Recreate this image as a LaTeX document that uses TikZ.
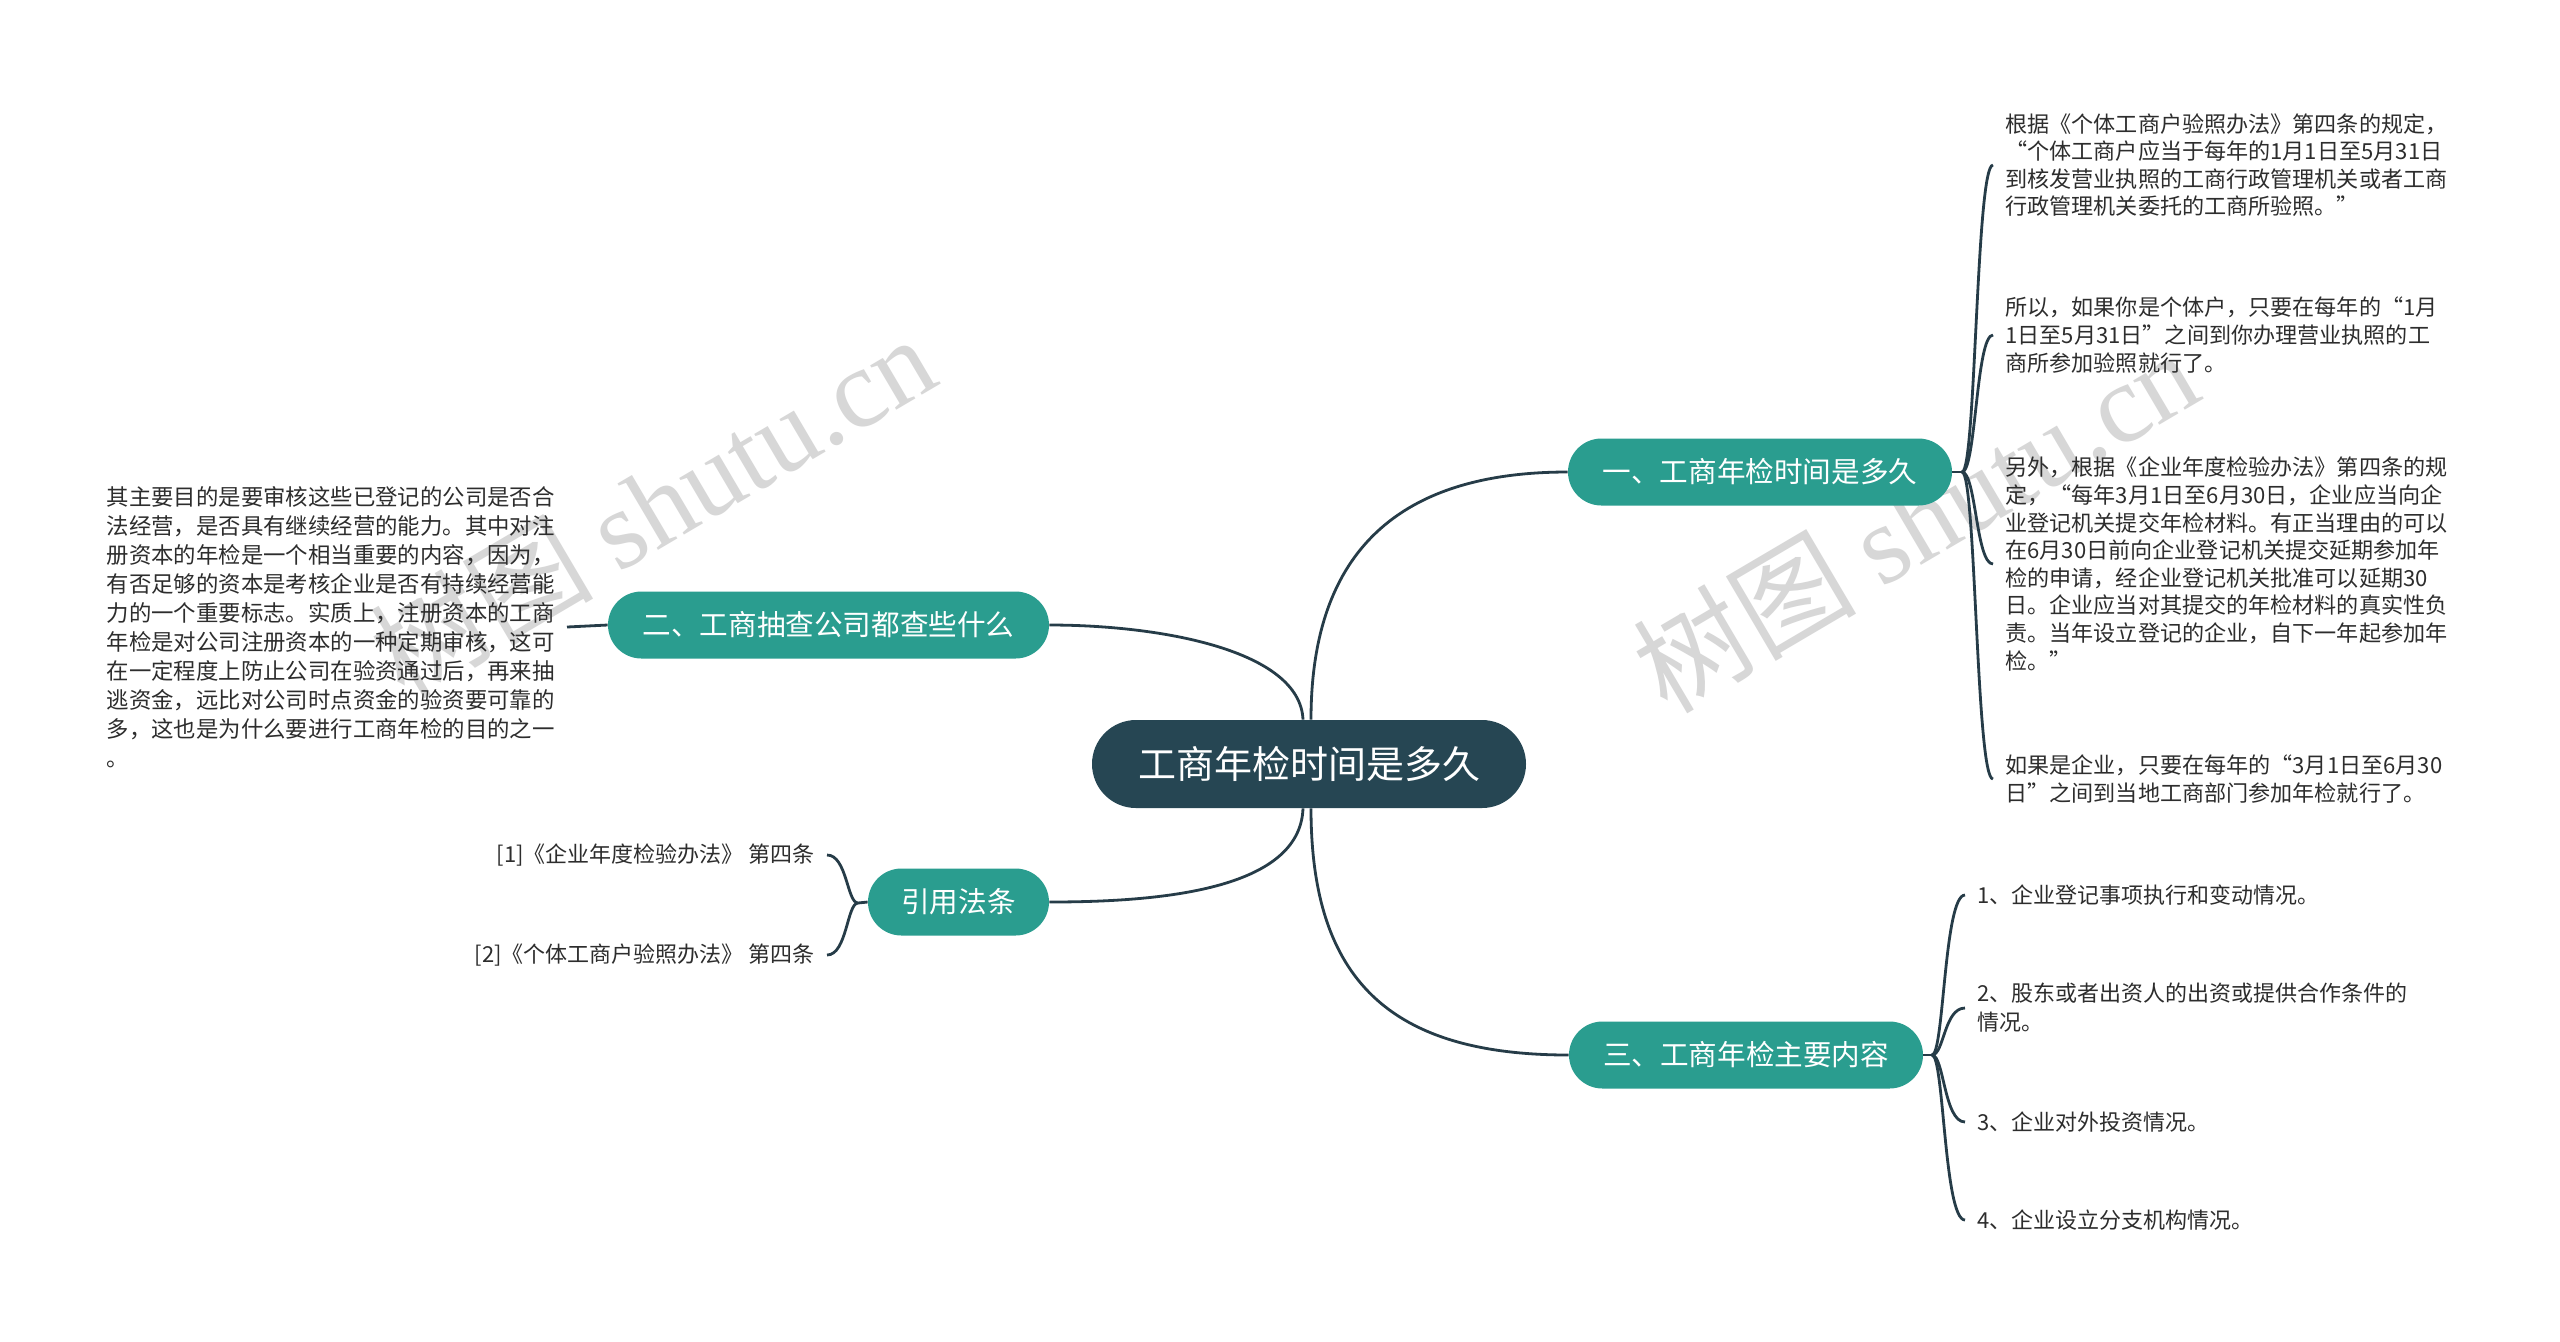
\documentclass[tikz,border=0pt]{standalone}
\usepackage{fontspec}
\setmainfont{Noto Sans CJK SC}
\newfontfamily\wmlatin{Liberation Serif}
\definecolor{tealnode}{RGB}{42,157,143}
\definecolor{rootnode}{RGB}{38,70,83}
\definecolor{linecol}{RGB}{38,60,72}
\definecolor{leaftext}{RGB}{45,45,45}
\definecolor{wmgray}{RGB}{215,215,215}
\tikzset{
  rootbox/.style={draw=none, fill=rootnode, text=white, rounded corners=22pt,
    minimum width=217pt, minimum height=44pt, inner sep=0pt,
    font=\fontsize{19}{22}\selectfont},
  branchbox/.style={draw=none, fill=tealnode, text=white, rounded corners=16.75pt,
    minimum height=33.5pt, inner sep=0pt,
    font=\fontsize{14.3}{17}\selectfont},
  leafbox/.style={inner sep=0pt, align=left, text=leaftext,
    font=\fontsize{11}{14}\selectfont},
  leafboxr/.style={inner sep=0pt, align=right, text=leaftext,
    font=\fontsize{11}{14}\selectfont},
  conn/.style={draw=linecol, line width=1.4pt},
  wmark/.style={text=wmgray, rotate=30.5, inner sep=0pt}
}
\begin{document}
\begin{tikzpicture}[x=0.5pt, y=-0.5pt]
\useasboundingbox (0,0) rectangle (2560,1341);
\fill[white] (0,0) rectangle (2560,1341);

% watermarks
\node[wmark] (wm1) at (652,505) {\fontsize{56}{60}\selectfont 树图 {\wmlatin shutu.cn}};
\node[wmark] (wm2) at (1915,520) {\fontsize{56}{60}\selectfont 树图 {\wmlatin shutu.cn}};

% main nodes
\node[rootbox] (c) at (1309,764) {工商年检时间是多久};
\node[branchbox, minimum width=192pt] (n1) at (1760,472) {一、工商年检时间是多久};
\node[branchbox, minimum width=177pt] (n3) at (1746,1055) {三、工商年检主要内容};
\node[branchbox, minimum width=220.5pt] (n2) at (828.5,625) {二、工商抽查公司都查些什么};
\node[branchbox, minimum width=90.5pt] (n4) at (958.5,902) {引用法条};

% right upper leaves
\node[leafbox, anchor=west, font=\fontsize{11.05}{13.8}\selectfont] (l1) at (2005,165) {根据《个体工商户验照办法》第四条的规定，\\“个体工商户应当于每年的1月1日至5月31日\\到核发营业执照的工商行政管理机关或者工商\\行政管理机关委托的工商所验照。”};
\node[leafbox, anchor=west, font=\fontsize{11.05}{13.8}\selectfont] (l2) at (2005,335) {所以，如果你是个体户，只要在每年的“1月\\1日至5月31日”之间到你办理营业执照的工\\商所参加验照就行了。};
\node[leafbox, anchor=west, font=\fontsize{11.05}{13.8}\selectfont] (l3) at (2005,564) {另外，根据《企业年度检验办法》第四条的规\\定，“每年3月1日至6月30日，企业应当向企\\业登记机关提交年检材料。有正当理由的可以\\在6月30日前向企业登记机关提交延期参加年\\检的申请，经企业登记机关批准可以延期30\\日。企业应当对其提交的年检材料的真实性负\\责。当年设立登记的企业，自下一年起参加年\\检。”};
\node[leafbox, anchor=west, font=\fontsize{11.05}{13.8}\selectfont] (l4) at (2005,779) {如果是企业，只要在每年的“3月1日至6月30\\日”之间到当地工商部门参加年检就行了。};

% right lower leaves
\node[leafbox, anchor=west] (m1) at (1977,895) {1、企业登记事项执行和变动情况。};
\node[leafbox, anchor=west, font=\fontsize{11}{14.5}\selectfont] (m2) at (1977,1008) {2、股东或者出资人的出资或提供合作条件的\\情况。};
\node[leafbox, anchor=west] (m3) at (1977,1122) {3、企业对外投资情况。};
\node[leafbox, anchor=west] (m4) at (1977,1220) {4、企业设立分支机构情况。};

% left leaves
\node[leafbox, anchor=east, font=\fontsize{11.2}{14.5}\selectfont] (k1) at (555,627) {其主要目的是要审核这些已登记的公司是否合\\法经营，是否具有继续经营的能力。其中对注\\册资本的年检是一个相当重要的内容，因为，\\有否足够的资本是考核企业是否有持续经营能\\力的一个重要标志。实质上，注册资本的工商\\年检是对公司注册资本的一种定期审核，这可\\在一定程度上防止公司在验资通过后，再来抽\\逃资金，远比对公司时点资金的验资要可靠的\\多，这也是为什么要进行工商年检的目的之一\\。};
\node[leafboxr, anchor=east] (r1) at (815,855) {[1]《企业年度检验办法》 第四条};
\node[leafboxr, anchor=east] (r2) at (815,955) {[2]《个体工商户验照办法》 第四条};

% central connectors
\draw[conn] ([xshift=1pt]c.north) .. controls (1311,560) and (1390,472) .. (n1.west);
\draw[conn] ([xshift=1pt]c.south) .. controls (1311,980) and (1390,1055) .. (n3.west);
\draw[conn] ([xshift=-3pt]c.north) .. controls (1300,650) and (1160,625) .. (n2.east);
\draw[conn] ([xshift=-3pt]c.south) .. controls (1300,890) and (1160,902) .. (n4.east);

% bracket for n1
\coordinate (j1) at (1962,472);
\draw[conn] (n1.east) -- (j1);
\foreach \leaf/\ly in {l1/165, l2/335, l3/564, l4/779}{
  \draw[conn] (j1) .. controls (1976,472) and (1976,\ly) .. ([xshift=-6pt]\leaf.west);
}
% bracket for n3
\coordinate (j3) at (1932,1055);
\draw[conn] (n3.east) -- (j3);
\foreach \leaf/\ly in {m1/895, m2/1008, m3/1122, m4/1220}{
  \draw[conn] (j3) .. controls (1944,1055) and (1944,\ly) .. ([xshift=-6pt]\leaf.west);
}
% bracket for n4
\coordinate (j4) at (858,903);
\draw[conn] (n4.west) -- (j4);
\foreach \leaf/\ly in {r1/855, r2/955}{
  \draw[conn] (j4) .. controls (847,903) and (847,\ly) .. ([xshift=6pt]\leaf.east);
}
% line for n2
\draw[conn] (n2.west) -- ([xshift=6pt]k1.east);
\end{tikzpicture}
\end{document}
